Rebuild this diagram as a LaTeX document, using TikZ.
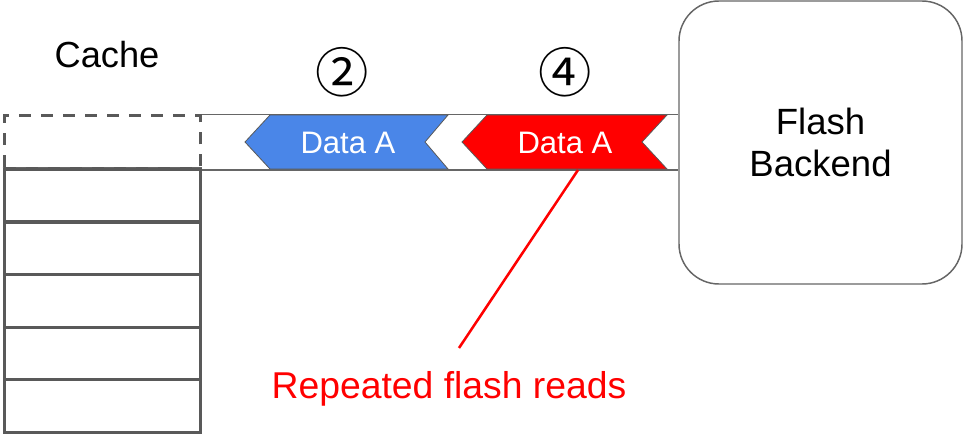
\documentclass[tikz,border=0pt]{standalone}
\usepackage{fontspec}
\setmainfont{Liberation Sans}
\newfontfamily\symfont{Noto Sans CJK JP}
\usetikzlibrary{calc}
\definecolor{cachegray}{HTML}{595959}
\definecolor{linegray}{HTML}{666666}
\definecolor{datablue}{HTML}{4A86E8}
\definecolor{datared}{HTML}{FF0000}
\tikzset{
  px/.style={x=0.75pt,y=-0.75pt},
  slot/.style={draw=cachegray,line width=2.25pt,minimum width=147pt,minimum height=39.4pt,inner sep=0pt},
  pendingslot/.style={slot,dashed,dash pattern=on 9pt off 7.5pt},
  pipe/.style={draw=linegray,line width=1.1pt},
  chevron/.style={draw=cachegray,line width=0.6pt},
  datalabel/.style={text=white,font=\fontsize{23.3pt}{28pt}\selectfont,inner sep=0pt},
  stepnum/.style={font=\symfont\fontsize{40pt}{44pt}\selectfont,inner sep=0pt},
  backendbox/.style={draw=linegray,line width=1.1pt,rounded corners=30pt,minimum width=212.25pt,minimum height=212.25pt,align=center,font=\fontsize{27.4pt}{31.5pt}\selectfont},
}
\begin{document}
\begin{tikzpicture}[px]
\useasboundingbox (0,0) rectangle (963,435);

% cache title
\node[font=\fontsize{27.2pt}{32pt}\selectfont] (cachetitle) at (107,55) {Cache};

% cache slots: dashed slot on top, solid slots below
\foreach \i/\y in {1/195.5,2/248.5,3/301,4/353.5,5/406}{
  \node[slot] (slot\i) at (102,\y) {};
}
\draw[draw=linegray,line width=0.9pt] (slot1.north west) -- (slot1.north east);
\node[pendingslot] (pending) at (102,142) {};

% flash backend
\node[backendbox] (backend) at (820.5,142.5) {Flash\\Backend};

% pipe between cache and backend
\draw[pipe] (pending.north east) -- (pending.north east -| backend.west);
\draw[pipe] (pending.south east) -- (pending.south east -| backend.west);

% data in flight
\fill[datablue] (245,142) -- (270,115) -- (448,115) -- (425,142) -- (448,169) -- (270,169) -- cycle;
\draw[chevron] (245,142) -- (270,115) -- (448,115) -- (425,142) -- (448,169) -- (270,169) -- cycle;
\node[datalabel] (dataone) at (348,143) {Data A};

\fill[datared] (462,142) -- (487,115) -- (667,115) -- (642,142) -- (667,169) -- (487,169) -- cycle;
\draw[chevron] (462,142) -- (487,115) -- (667,115) -- (642,142) -- (667,169) -- (487,169) -- cycle;
\node[datalabel] (datatwo) at (565,143) {Data A};
\coordinate (redfoot) at (578,170);

% step numbers
\node[stepnum] (steptwo) at (342,72) {②};
\node[stepnum] (stepfour) at (565,72) {④};

% annotation
\node[text=datared,font=\fontsize{28pt}{33pt}\selectfont] (note) at (449,389) {Repeated flash reads};
\coordinate (notetop) at (459,348);
\draw[datared,line width=1.9pt] (redfoot) -- (notetop);
\end{tikzpicture}
\end{document}
